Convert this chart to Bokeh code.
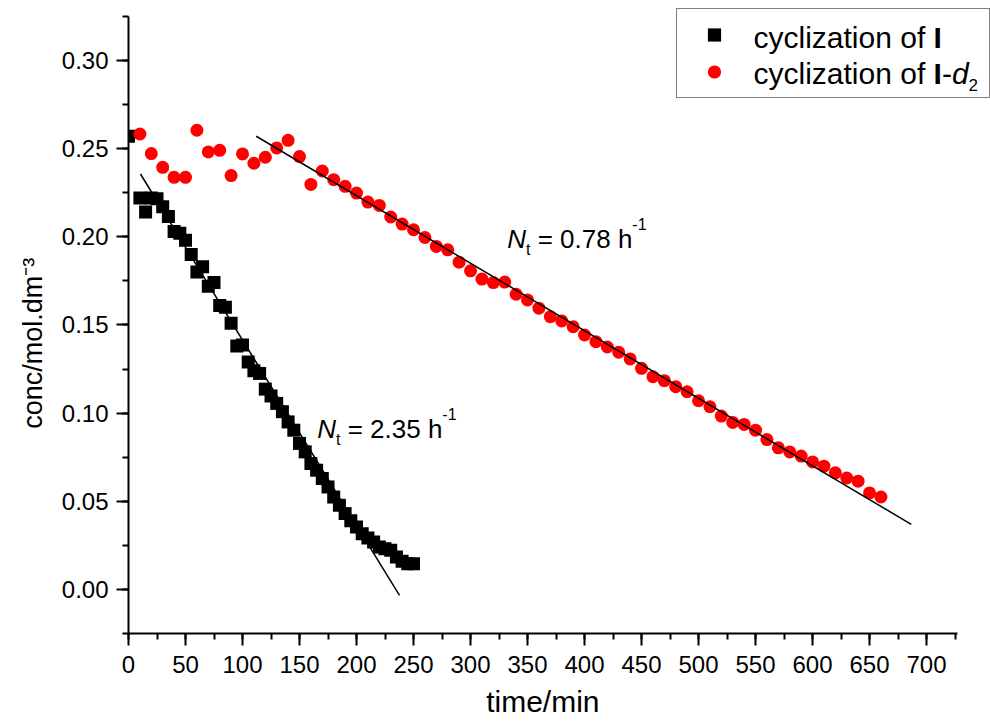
from bokeh.plotting import figure
from bokeh.models import (Range1d, SingleIntervalTicker, NumeralTickFormatter, Label,
                          Legend, LegendItem)
from bokeh.embed import file_html
from bokeh.resources import INLINE

# ---------------- data ----------------
t_I = [0, 10, 15, 20, 25, 30, 35, 40, 45, 50, 55, 60, 65, 70, 75, 80, 85, 90, 95, 100,
       105, 110, 115, 120, 125, 130, 135, 140, 145, 150, 155, 160, 165, 170, 175, 180,
       185, 190, 195, 200, 205, 210, 215, 220, 225, 230, 235, 240, 245, 250]
c_I = [0.257, 0.222, 0.214, 0.222, 0.2215, 0.217, 0.2115, 0.203, 0.202, 0.198, 0.190,
       0.180, 0.183, 0.172, 0.174, 0.161, 0.160, 0.151, 0.138, 0.1386, 0.129, 0.124,
       0.1225, 0.1136, 0.1097, 0.1055, 0.1008, 0.095, 0.0903, 0.0828, 0.078, 0.0714,
       0.0676, 0.0629, 0.0581, 0.0524, 0.0477, 0.043, 0.039, 0.0354, 0.0316, 0.0292,
       0.0269, 0.024, 0.0231, 0.0222, 0.0184, 0.016, 0.0146, 0.0146]

t_d2 = [10, 20, 30, 40, 50, 60, 70, 80, 90, 100, 110, 120, 130, 140, 150, 160, 170, 180,
        190, 200, 210, 220, 230, 240, 250, 260, 270, 280, 290, 300, 310, 320, 330, 340,
        350, 360, 370, 380, 390, 400, 410, 420, 430, 440, 450, 460, 470, 480, 490, 500,
        510, 520, 530, 540, 550, 560, 570, 580, 590, 600, 610, 620, 630, 640, 650, 660]
c_d2 = [0.2583, 0.2472, 0.2394, 0.2337, 0.2337, 0.2604, 0.2481, 0.249, 0.2347, 0.247,
        0.2417, 0.2451, 0.2504, 0.2547, 0.2455, 0.2297, 0.2373, 0.2324, 0.2286, 0.2248,
        0.2197, 0.2178, 0.2112, 0.2072, 0.204, 0.1996, 0.1945, 0.1926, 0.1856, 0.1807,
        0.176, 0.174, 0.1743, 0.1674, 0.1642, 0.1595, 0.1547, 0.1523, 0.149, 0.1443,
        0.1405, 0.1375, 0.1345, 0.1307, 0.1254, 0.1206, 0.1184, 0.115, 0.1121, 0.107,
        0.1036, 0.0983, 0.0947, 0.0936, 0.0903, 0.085, 0.0803, 0.078, 0.0756, 0.0723,
        0.0699, 0.0661, 0.0632, 0.0614, 0.0547, 0.0524]

fit_I_t = [10.5, 237.7]
fit_I_c = [0.2356, -0.0034]
fit_d2_t = [112.0, 686.6]
fit_d2_c = [0.257, 0.0369]

rate_labels = ["2.35", "0.78"]
x_title = "time/min"
y_title = "conc/mol.dm\u207b\u00b3"

# ---------------- layout ----------------
W, H = 990, 722
ML, MR, MT, MB = 128, 0, 0, 89
FW, FH = W - ML - MR, H - MT - MB
X0, X1 = 0.0, 756.1
Y0, Y1 = -0.025, 0.334
SX = FW / (X1 - X0)
SY = FH / (Y1 - Y0)
FONT = "Liberation Sans"
NB = "\u00a0"
TEXT_DY = -7  # baseline correction for labels


def fx(px):
    return X0 + (px - ML) / SX


def fy(py):
    return Y0 + (MT + FH - py) / SY


p = figure(width=W, height=H, output_backend="svg", toolbar_location=None,
           x_range=Range1d(X0, X1), y_range=Range1d(Y0, Y1),
           min_border_left=ML, min_border_right=MR, min_border_top=MT,
           min_border_bottom=MB, title=None)
p.outline_line_color = None
p.xgrid.visible = False
p.ygrid.visible = False
p.background_fill_color = "white"
p.border_fill_color = "white"

for ax in (p.xaxis[0], p.yaxis[0]):
    ax.axis_line_width = 2
    ax.axis_line_color = "black"
    ax.major_tick_line_width = 2
    ax.minor_tick_line_width = 2
    ax.major_tick_out = 12
    ax.major_tick_in = 0
    ax.minor_tick_out = 6
    ax.minor_tick_in = 0
    ax.major_label_text_font = FONT
    ax.major_label_text_font_size = "24px"
    ax.major_label_text_color = "black"
    ax.axis_label_text_font = FONT
    ax.axis_label_text_font_style = "normal"
    ax.axis_label_text_color = "black"

p.xaxis[0].ticker = SingleIntervalTicker(interval=50, num_minor_ticks=2)
p.xaxis[0].bounds = (0, 727)
p.xaxis[0].major_label_standoff = 10
p.xaxis[0].axis_label = x_title + NB * 4
p.xaxis[0].axis_label_text_font_size = "30px"
p.xaxis[0].axis_label_standoff = 9

p.yaxis[0].ticker = SingleIntervalTicker(interval=0.05, num_minor_ticks=2)
p.yaxis[0].formatter = NumeralTickFormatter(format="0.00")
p.yaxis[0].bounds = (-0.025, 0.3251)
p.yaxis[0].major_label_standoff = 8
p.yaxis[0].axis_label = y_title + NB * 7
p.yaxis[0].axis_label_text_font_size = "27px"
p.yaxis[0].axis_label_standoff = 11

sq = p.scatter(t_I, c_I, marker="square", size=13, fill_color="black",
               line_color="black", line_width=0)
ci = p.scatter(t_d2, c_d2, marker="circle", size=13, fill_color="#ff0000",
               line_color="#ff0000", line_width=0)
p.line(fit_I_t, fit_I_c, line_color="black", line_width=1.5)
p.line(fit_d2_t, fit_d2_c, line_color="black", line_width=1.5)

# legend box with markers (text drawn as rich labels on top)
leg = Legend(items=[LegendItem(label=" ", renderers=[sq]),
                    LegendItem(label=" ", renderers=[ci])],
             location=(676 - ML, MT + FH - 98), margin=0, padding=9, spacing=4,
             glyph_width=56, glyph_height=33, label_height=33, label_width=228,
             label_standoff=10, label_text_font_size="8px",
             border_line_color="black", border_line_width=1.5,
             background_fill_alpha=0.0)
p.add_layout(leg, "center")

W_REG = {' ': 278, NB: 278, '-': 333, '.': 278, '/': 278, '=': 584, 'a': 556, 'c': 500,
         'd': 556, 'e': 556, 'f': 278, 'h': 556, 'i': 222, 'l': 222, 'm': 833, 'n': 556,
         'o': 556, 't': 278, 'y': 500, 'z': 500, 'N': 722, 'I': 278}


def tw(s, size):
    return sum(W_REG.get(ch, 556) for ch in s) * size / 1000.0


def rich(x_px, y_px, pieces):
    """pieces: (text, size, style, raise_px)"""
    pos = 0.0
    for text, size, style, rise in pieces:
        p.add_layout(Label(x=fx(x_px + pos), y=fy(y_px - rise + TEXT_DY), text=text,
                           text_font=FONT, text_font_size=f"{size}px",
                           text_font_style=style, text_color="black", text_align="left",
                           text_baseline="alphabetic", level="overlay"))
        pos += tw(text, size)


# legend texts
rich(753, 44, [("cyclization" + NB + "of" + NB, 30, "normal", 0), ("I", 30, "bold", 0)])
rich(753, 80, [("cyclization" + NB + "of" + NB, 30, "normal", 0), ("I", 30, "bold", 0),
               ("-", 30, "normal", 0), ("d", 30, "italic", 0), ("2", 17, "normal", -11)])

# rate annotations
for (xa, ya), rate in zip([(316.7, 435), (506.7, 245)], rate_labels):
    rich(xa, ya, [("N", 26, "italic", 0), ("t", 16, "normal", -11),
                  (NB + "=" + NB + rate + NB + "h", 26, "normal", 0),
                  ("-1", 16, "normal", 15)])

open("out.html", "w").write(file_html(p, INLINE))
